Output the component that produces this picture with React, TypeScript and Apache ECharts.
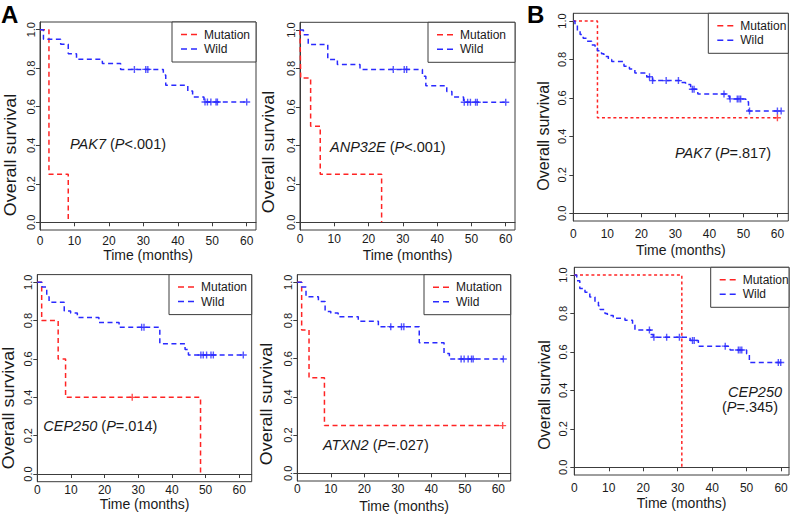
import React, { useEffect, useRef } from 'react';
import * as echarts from 'echarts';

const FONT = '"Liberation Sans", Arial, Helvetica, sans-serif';
const RED = '#ff2424';
const BLUE = '#2a2aff';
const INK = '#1a1a1a';
const FRAME = '#3c3c3c';

const xTicks = [0, 10, 20, 30, 40, 50, 60];
const yTicks = [0, 0.2, 0.4, 0.6, 0.8, 1.0];
const legendNames = ['Mutation', 'Wild'];
const xTitle = 'Time (months)';
const yTitle = 'Overall survival';
const panelLetters = ['A', 'B'];

// ---- A: PAK7 ----
const aPak7MutTime = [0, 2.6, 8.2];
const aPak7MutSurv = [1, 0.25, 0];
const aPak7MutCens: number[] = [];
const aPak7WildTime = [0, 1.0, 6.0, 8.2, 10.6, 18.1, 23.4, 35.8, 36.5, 42.9, 44.3, 47.6, 60.0];
const aPak7WildSurv = [1, 0.95, 0.925, 0.875, 0.846, 0.824, 0.794, 0.765, 0.711, 0.682, 0.651, 0.625, 0.625];
const aPak7WildCens = [27.4, 30.7, 31.3, 47.9, 48.6, 49.6, 51.1, 51.5, 60.0];

// ---- A: ANP32E ----
const aAnpMutTime = [0, 0.2, 3.1, 5.9, 23.8];
const aAnpMutSurv = [1, 0.75, 0.5, 0.25, 0];
const aAnpMutCens: number[] = [];
const aAnpWildTime = [0, 1.0, 2.4, 8.1, 10.9, 17.5, 35.7, 36.7, 42.8, 44.3, 47.7, 60.0];
const aAnpWildSurv = [1, 0.975, 0.925, 0.847, 0.82, 0.795, 0.76, 0.71, 0.68, 0.652, 0.624, 0.624];
const aAnpWildCens = [27.2, 30.4, 31.1, 47.9, 48.9, 49.7, 51.2, 51.7, 60.0];

// ---- A: CEP250 ----
const aCepMutTime = [0, 1.3, 6.2, 8.4, 48.5];
const aCepMutSurv = [1, 0.8, 0.6, 0.4, 0];
const aCepMutCens = [28.2];
const aCepWildTime = [0, 1.4, 2.8, 3.5, 8.0, 9.9, 11.9, 18.3, 24.3, 36.4, 43.9, 44.9, 61.2];
const aCepWildSurv = [1, 0.975, 0.925, 0.896, 0.85, 0.84, 0.816, 0.79, 0.765, 0.68, 0.65, 0.621, 0.621];
const aCepWildCens = [31.0, 31.7, 48.6, 49.3, 50.3, 51.6, 52.3, 61.2];

// ---- A: ATXN2 ----
const aAtxMutTime = [0, 1.3, 3.5, 8.1, 61.3];
const aAtxMutSurv = [1, 0.75, 0.5, 0.25, 0.25];
const aAtxMutCens = [61.3];
const aAtxWildTime = [0, 1.3, 2.6, 6.3, 8.3, 10.0, 12.2, 18.2, 24.2, 36.4, 43.8, 45.4, 61.5];
const aAtxWildSurv = [1, 0.975, 0.925, 0.9, 0.848, 0.84, 0.82, 0.796, 0.768, 0.684, 0.628, 0.599, 0.599];
const aAtxWildCens = [27.9, 31.1, 31.8, 48.9, 49.8, 51.0, 52.0, 52.5, 61.5];

// ---- B: PAK7 ----
const bPak7MutTime = [0, 7.1, 60.0];
const bPak7MutSurv = [1, 0.497, 0.497];
const bPak7MutCens = [60.0];
const bPak7WildTime = [0, 0.5, 1.2, 2.0, 2.9, 3.9, 5.4, 6.4, 7.1, 8.3, 9.0, 10.3, 11.3, 14.9, 16.5, 18.1, 21.6, 23.3, 31.9, 33.0, 34.5, 36.6, 44.9, 45.9, 50.7, 51.5, 61.1];
const bPak7WildSurv = [1, 0.98, 0.95, 0.93, 0.91, 0.895, 0.875, 0.86, 0.845, 0.83, 0.815, 0.8, 0.79, 0.765, 0.75, 0.73, 0.71, 0.69, 0.68, 0.67, 0.645, 0.62, 0.61, 0.595, 0.58, 0.532, 0.532];
const bPak7WildCens = [22.4, 23.3, 27.3, 30.9, 35.0, 35.5, 44.3, 46.1, 48.2, 48.7, 49.2, 51.8, 60.0, 61.1];

// ---- B: CEP250 ----
const bCepMutTime = [0, 31.2];
const bCepMutSurv = [1, 0];
const bCepMutCens: number[] = [];
const bCepWildTime = [0, 0.7, 1.6, 3.1, 4.5, 6.0, 7.0, 7.5, 8.9, 9.6, 11.3, 14.7, 16.9, 17.6, 22.2, 22.9, 33.6, 36.0, 44.7, 45.2, 50.0, 50.8, 59.9];
const bCepWildSurv = [1, 0.97, 0.93, 0.91, 0.886, 0.86, 0.84, 0.82, 0.8, 0.79, 0.775, 0.765, 0.74, 0.714, 0.69, 0.676, 0.66, 0.63, 0.62, 0.61, 0.59, 0.545, 0.545];
const bCepWildCens = [21.8, 23.1, 26.8, 30.5, 34.3, 34.8, 43.8, 47.6, 48.1, 48.6, 59.2, 59.9];

const annotations = [
  ['{i|PAK7} ({i|P}<.001)'],
  ['{i|ANP32E} ({i|P}<.001)'],
  ['{i|CEP250} ({i|P}=.014)'],
  ['{i|ATXN2} ({i|P}=.027)'],
  ['{i|PAK7} ({i|P}=.817)'],
  ['{i|CEP250}', '({i|P}=.345)'],
];

const curves = [
  { mt: aPak7MutTime, ms: aPak7MutSurv, mc: aPak7MutCens, wt: aPak7WildTime, ws: aPak7WildSurv, wc: aPak7WildCens },
  { mt: aAnpMutTime, ms: aAnpMutSurv, mc: aAnpMutCens, wt: aAnpWildTime, ws: aAnpWildSurv, wc: aAnpWildCens },
  { mt: aCepMutTime, ms: aCepMutSurv, mc: aCepMutCens, wt: aCepWildTime, ws: aCepWildSurv, wc: aCepWildCens },
  { mt: aAtxMutTime, ms: aAtxMutSurv, mc: aAtxMutCens, wt: aAtxWildTime, ws: aAtxWildSurv, wc: aAtxWildCens },
  { mt: bPak7MutTime, ms: bPak7MutSurv, mc: bPak7MutCens, wt: bPak7WildTime, ws: bPak7WildSurv, wc: bPak7WildCens },
  { mt: bCepMutTime, ms: bCepMutSurv, mc: bCepMutCens, wt: bCepWildTime, ws: bCepWildSurv, wc: bCepWildCens },
];

// layout (pixels)
const DASH_A = [5, 3.5];
const DASH_B_RED = [3, 2.7];
const layout = [
  { left: 40, top: 22, width: 216, height: 208, xmax: 62.7, lblM: 5, nameGap: 18, yLblM: 4, legW: 84, ann: [[70, 143.5]], dashM: DASH_A, dashW: DASH_A, yt: [11, 155, 1.12] },
  { left: 300, top: 22.3, width: 215, height: 207.7, xmax: 62.7, lblM: 3, nameGap: 18, yLblM: 4, legW: 87, ann: [[330, 146.5]], dashM: DASH_A, dashW: DASH_A, yt: [269, 152, 1.12] },
  { left: 37.3, top: 274.6, width: 214.4, height: 207.1, xmax: 63.7, lblM: 2, nameGap: 14, yLblM: 4, legW: 82.7, ann: [[43.3, 425.7]], dashM: DASH_A, dashW: DASH_A, yt: [9, 408, 1.12] },
  { left: 297.3, top: 274.7, width: 213.4, height: 206.3, xmax: 63.7, lblM: 2, nameGap: 18, yLblM: 4, legW: 86.7, ann: [[323, 445]], dashM: DASH_A, dashW: DASH_A, yt: [267, 404, 1.12] },
  { left: 573.3, top: 13.3, width: 215, height: 207.7, xmax: 63.2, lblM: 7, nameGap: 22, yLblM: 6, legW: 80, ann: [[675, 153.3]], dashM: DASH_B_RED, dashW: DASH_A, yt: [543, 136, 1.0] },
  { left: 574.3, top: 267.3, width: 214.7, height: 207.7, xmax: 62.3, lblM: 7, nameGap: 21, yLblM: 6, legW: 78.3, ann: [[728, 391.7], [722, 406.7]], dashM: DASH_B_RED, dashW: DASH_A, yt: [544, 395, 1.0] },
];
const letterPos = [[1, 14], [527, 14]];

const PLUS = 'path://M4,0H6V4H10V6H6V10H4V6H0V4H4Z';

function survAt(times: number[], surv: number[], t: number) {
  let v = surv[0];
  for (let k = 0; k < times.length; k++) if (times[k] <= t) v = surv[k];
  return v;
}

function buildOption() {
  const grid: any[] = [];
  const xAxis: any[] = [];
  const yAxis: any[] = [];
  const series: any[] = [];
  const graphic: any[] = [];

  layout.forEach((L, i) => {
    grid.push({ left: L.left, top: L.top, width: L.width, height: L.height, show: true, borderColor: FRAME, borderWidth: 1, backgroundColor: 'transparent', containLabel: false });
    xAxis.push({
      gridIndex: i, type: 'value', min: 0, max: L.xmax,
      axisLine: { show: true, lineStyle: { color: FRAME, width: 1 } },
      splitLine: { show: false },
      axisTick: { show: true, length: 4, lineStyle: { color: FRAME }, customValues: xTicks },
      axisLabel: { customValues: xTicks, fontSize: 12, color: INK, fontFamily: FONT, margin: L.lblM },
      name: xTitle, nameLocation: 'middle', nameGap: L.nameGap,
      nameTextStyle: { fontSize: 14, color: INK, fontFamily: FONT },
    });
    yAxis.push({
      gridIndex: i, type: 'value', min: -0.04, max: 1.04,
      axisLine: { show: true, lineStyle: { color: FRAME, width: 1 } },
      splitLine: { show: false },
      axisTick: { show: true, length: 4, lineStyle: { color: FRAME }, customValues: yTicks },
      axisLabel: { customValues: yTicks, rotate: 90, fontSize: 11, color: INK, fontFamily: FONT, margin: L.yLblM, formatter: (v: number) => v.toFixed(1) },
    });

    // y-axis title (placed as in the reference, below the axis centre)
    graphic.push({
      type: 'text', z: 11, x: L.yt[0], y: L.yt[1], rotation: Math.PI / 2, scaleX: L.yt[2],
      style: { text: yTitle, x: 0, y: 0, align: 'center', verticalAlign: 'middle', fontSize: 16, fontFamily: FONT, fill: INK },
    });

    const c = curves[i];
    const groups = [
      { t: c.mt, s: c.ms, cz: c.mc, color: RED, name: legendNames[0], dash: L.dashM },
      { t: c.wt, s: c.ws, cz: c.wc, color: BLUE, name: legendNames[1], dash: L.dashW },
    ];
    groups.forEach((g) => {
      series.push({
        type: 'line', name: g.name, xAxisIndex: i, yAxisIndex: i, step: 'end',
        data: g.t.map((t, k) => [t, g.s[k]]),
        showSymbol: false, silent: true, z: 3,
        lineStyle: { color: g.color, width: 1.5, type: g.dash },
      });
      if (g.cz.length) {
        series.push({
          type: 'scatter', name: g.name, xAxisIndex: i, yAxisIndex: i, silent: true, z: 4,
          symbol: PLUS, symbolSize: 7,
          itemStyle: { color: g.color },
          data: g.cz.map((t) => [t, survAt(g.t, g.s, t)]),
        });
      }
    });

    // legend box
    const right = L.left + L.width;
    const bx = right - L.legW;
    const by = L.top;
    graphic.push({ type: 'rect', z: 10, shape: { x: bx, y: by, width: L.legW, height: 40 }, style: { fill: '#ffffff', stroke: FRAME, lineWidth: 1 } });
    [RED, BLUE].forEach((col, k) => {
      const yy = by + 12.5 + k * 14.5;
      graphic.push({ type: 'line', z: 11, shape: { x1: bx + 9, y1: yy, x2: bx + 26, y2: yy }, style: { stroke: col, lineWidth: 1.5, lineDash: [6, 4] } });
      graphic.push({ type: 'text', z: 11, style: { text: legendNames[k], x: bx + 32, y: yy, verticalAlign: 'middle', align: 'left', fontSize: 12, fontFamily: FONT, fill: INK } });
    });

    // annotation
    annotations[i].forEach((txt, k) => {
      const [ax, ay] = L.ann[k];
      graphic.push({
        type: 'text', z: 11,
        style: {
          text: txt, x: ax, y: ay, verticalAlign: 'middle', align: 'left',
          fontSize: 14.5, fontFamily: FONT, fill: INK,
          rich: { i: { fontStyle: 'italic', fontSize: 14.5, fontFamily: FONT, fill: INK } },
        },
      });
    });
  });

  panelLetters.forEach((l, k) => {
    graphic.push({ type: 'text', z: 11, style: { text: l, x: letterPos[k][0], y: letterPos[k][1], verticalAlign: 'middle', fontSize: 24, fontWeight: 'bold', fontFamily: FONT, fill: '#000' } });
  });

  return { animation: false, backgroundColor: '#ffffff', grid, xAxis, yAxis, series, graphic: { elements: graphic } };
}

export default function App() {
  const ref = useRef<HTMLDivElement>(null);
  useEffect(() => {
    if (!ref.current) return;
    const chart = echarts.init(ref.current, undefined, { renderer: 'svg' });
    chart.setOption(buildOption() as any);
    return () => chart.dispose();
  }, []);
  return <div ref={ref} style={{ position: 'fixed', left: 0, top: 0, width: 791, height: 517 }} />;
}
